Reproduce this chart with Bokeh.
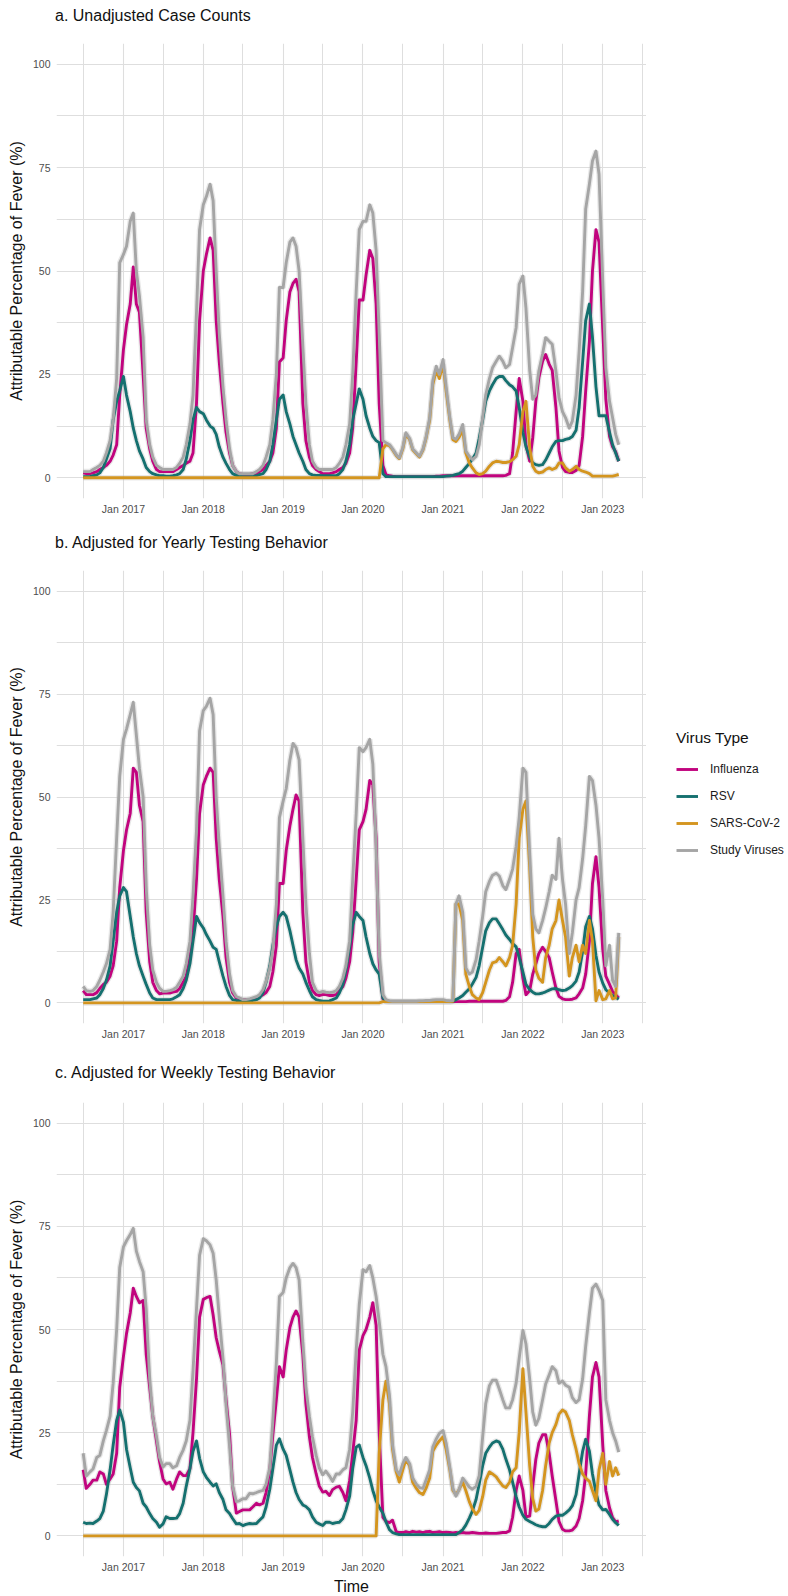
import pandas as pd
from bokeh.plotting import figure
from bokeh.layouts import column, row
from bokeh.models import Range1d, FixedTicker, DatetimeTickFormatter, Legend, LegendItem, Div
from bokeh.embed import file_html
from bokeh.resources import INLINE

# ---------------- data (semi-monthly, 1st and 15th, Jul 2016 - Mar 2023) ----------------
dates = pd.date_range("2016-07-01", "2023-03-15", freq="SMS")
series_names = ["Influenza", "RSV", "SARS-CoV-2", "Study Viruses"]
panel_titles = ["a. Unadjusted Case Counts",
                "b. Adjusted for Yearly Testing Behavior",
                "c. Adjusted for Weekly Testing Behavior"]
year_ticks = ["2017-01-01", "2018-01-01", "2019-01-01", "2020-01-01",
              "2021-01-01", "2022-01-01", "2023-01-01"]
half_year_ticks = ["2016-07-01", "2017-07-01", "2018-07-01", "2019-07-01",
                   "2020-07-01", "2021-07-01", "2022-07-01", "2023-07-01"]
y_ticks = [0, 25, 50, 75, 100]
y_minor = [12.5, 37.5, 62.5, 87.5]

# ---- panel a: unadjusted ----
flu_a = ([1.2, 1, 1, 1.2, 1.5, 2, 2.5, 3, 4, 5.5, 8, 20, 31, 37, 42, 51, 42, 40, 25, 12, 7, 4, 2, 1.5]
         + [1.5, 1.5, 1.5, 1.5, 2, 2.5, 3, 3.5, 4, 6, 18, 38, 50, 54, 58, 55, 38, 28, 18, 11, 6, 3, 1.5, 1]
         + [0.8, 0.8, 0.8, 1, 1, 1.5, 2, 3, 4, 6, 12, 28, 29, 38, 45, 47, 48, 45, 18, 9, 5, 3, 2, 1.5]
         + [1, 1, 1, 1.2, 1.5, 2, 2.5, 3.5, 6, 12, 28, 43, 43, 49, 55, 53, 42, 18, 3, 0.8, 0.5, 0.4, 0.3, 0.3]
         + [0.3, 0.3, 0.3, 0.3, 0.3, 0.3, 0.3, 0.3, 0.3, 0.3, 0.4, 0.4, 0.5, 0.5, 0.5, 0.5, 0.5, 0.5, 0.5, 0.5, 0.5, 0.5, 0.5, 0.5]
         + [0.5, 0.5, 0.5, 0.5, 0.5, 0.5, 0.5, 0.6, 1, 6, 16, 24, 18.5, 8, 4, 9.7, 18.5, 24.2, 28.2, 29.8, 27.5, 26, 17, 6.5]
         + [2.5, 1.5, 1.3, 1.3, 1.8, 3, 10, 21, 33, 50, 60, 57, 36, 19, 10, 7.5, 6.3, 4])
rsv_a = ([0.3, 0.3, 0.3, 0.5, 0.7, 1.2, 2.5, 4.5, 7, 14, 18.5, 21, 24.5, 20, 16, 12, 9, 6.5, 4.5, 2.5, 1.5, 1, 0.7, 0.5]
         + [0.5, 0.4, 0.4, 0.5, 0.7, 1, 2, 4.5, 9, 14, 17, 16, 15.5, 14, 12.5, 12, 10.5, 7.5, 5, 3.5, 2, 1, 0.6, 0.4]
         + [0.3, 0.3, 0.3, 0.4, 0.5, 0.8, 1, 2, 4, 8, 14, 19, 20, 16, 13, 10, 8, 6, 4, 2, 1, 0.7, 0.6, 0.6]
         + [0.5, 0.5, 0.5, 0.5, 0.5, 1, 2, 4, 8, 14, 18, 21.5, 19, 15, 12, 10, 9, 8.5, 1, 0.3, 0.3, 0.3, 0.3, 0.3]
         + [0.3, 0.3, 0.3, 0.3, 0.3, 0.3, 0.3, 0.3, 0.3, 0.3, 0.3, 0.3, 0.3, 0.4, 0.5, 0.6, 0.8, 1, 1.6, 2.5, 3.5, 4.5, 6, 9.5]
         + [14, 18.5, 21, 22.5, 24, 24.5, 24.5, 23.5, 22.5, 22, 21, 17, 11, 7.5, 5, 3.6, 3.2, 3, 3.2, 4.3, 6, 7.5, 8.8, 9]
         + [9, 9.3, 9.5, 10, 11.5, 17, 28, 38, 42, 34, 22, 15, 15, 15, 11, 8, 6, 4])
sars_a = ([0] * 24 + [0] * 24 + [0] * 24
          + [0, 0, 0, 0, 0, 0, 0, 0, 0, 0, 0, 0, 0, 0, 0, 0, 0, 0, 7, 8, 7.8, 6.8, 5.4, 4.6]
          + [7, 10.5, 9.3, 6.8, 5.8, 5, 6.7, 9.5, 14, 22.5, 26, 24, 27.5, 21, 14, 9.2, 8.8, 9.8, 11.5, 6, 3.6, 2.4, 1.2, 0.8]
          + [1, 1.6, 2.8, 3.6, 4, 3.9, 3.7, 3.7, 3.9, 4.4, 5.2, 8, 16, 18.5, 7.3, 2.8, 1.6, 1.2, 1.4, 2, 2.4, 2, 2.4, 3.6]
          + [3.6, 2.4, 1.6, 2, 2.8, 2, 1.6, 1.4, 1, 0.4, 0.4, 0.4, 0.4, 0.4, 0.4, 0.4, 0.6, 0.8])
all_a = ([1.5, 1.5, 1.5, 2, 2.5, 3, 4, 6, 9, 14, 24, 52, 54, 56, 62, 64, 50, 44, 34, 14, 8, 5, 3, 2.5]
         + [2, 2, 2, 2, 2.5, 3.5, 5, 8, 13, 20, 40, 60, 66, 68, 71, 67, 50, 35, 22, 14, 7, 3, 1.5, 1]
         + [1, 1, 1, 1, 1.5, 2, 3, 5, 8, 14, 25, 46, 46, 52, 57, 58, 56, 50, 32, 18, 8, 4, 2.5, 2]
         + [2, 2, 2, 2, 2.5, 3.5, 5, 8, 13, 25, 45, 60, 62, 62, 66, 64, 55, 35, 9, 8.5, 8, 7, 5.6, 4.8]
         + [7.3, 10.9, 9.5, 7, 6, 5.2, 6.9, 9.7, 14.5, 23.4, 27, 25, 28.6, 22, 14.5, 9.7, 9.3, 10.5, 12.9, 6.5, 5.2, 4.4, 5.2, 8]
         + [14.5, 20, 24, 26.6, 28.2, 29.4, 28.2, 26.6, 27.4, 31.5, 36.3, 46.8, 48.8, 41, 26, 19, 20, 25.8, 30, 33.9, 33, 32.3, 25.8, 19.4]
         + [16, 14.5, 12, 13.7, 20, 30.6, 45, 65, 71, 76.6, 79, 73.4, 47.6, 26.6, 18.5, 14.5, 10.5, 8])

# ---- panel b: adjusted for yearly testing behaviour ----
flu_b = ([3, 2, 2, 2, 2.5, 3.5, 4.5, 5, 6.5, 9, 15, 28, 37, 42, 46, 57, 56, 48, 44, 22, 10, 5, 3, 2.2]
         + [2.4, 2.4, 2.4, 2.6, 2.8, 3.5, 5, 6.5, 11, 17, 30, 46, 53, 55, 57, 56, 40, 30, 21, 11, 5, 2.5, 1.2, 1]
         + [0.8, 0.8, 0.8, 1, 1.2, 1.5, 2, 2.5, 4, 7.5, 14, 29, 29, 37, 43, 47, 50.5, 49, 22, 10, 5, 3, 2, 1.8]
         + [2, 2, 1.8, 1.8, 2, 3, 4, 6, 10, 17, 30, 42, 44, 47, 54, 53, 40, 10, 1, 0.3, 0.3, 0.3, 0.3, 0.3]
         + [0.3, 0.3, 0.3, 0.3, 0.3, 0.3, 0.3, 0.3, 0.3, 0.3, 0.3, 0.3, 0.3, 0.3, 0.3, 0.3, 0.3, 0.3, 0.3, 0.3, 0.4, 0.4, 0.4, 0.4]
         + [0.4, 0.4, 0.4, 0.4, 0.4, 0.4, 0.4, 0.6, 1.5, 5, 12, 13, 6, 2, 3, 7, 9.5, 12, 13.5, 12.5, 11, 7.5, 3.6, 1.6]
         + [1, 0.8, 0.8, 0.9, 1.2, 2.2, 3.6, 7, 15, 29, 35.5, 28, 13, 6.5, 4.5, 2.8, 2, 1.2])
rsv_b = ([0.8, 0.8, 0.8, 1, 1.2, 2, 3.5, 5.5, 9, 15, 22, 26, 28, 27, 21, 16, 12, 9, 6.5, 4.5, 2.4, 1.2, 0.8, 0.8]
         + [0.8, 0.8, 0.8, 1, 1.5, 2, 3.5, 5.5, 9.5, 15, 21, 19.5, 18.2, 16.6, 15, 13.5, 13, 10, 6.5, 4, 1.8, 0.8, 0.6, 0.5]
         + [0.4, 0.4, 0.5, 0.6, 0.8, 1.2, 2.5, 5, 9, 14, 18.5, 21, 22, 21, 17.5, 14, 10.5, 8.5, 7, 5, 3, 1.5, 0.8, 0.6]
         + [0.4, 0.4, 0.5, 0.8, 1.2, 2.4, 4.5, 8, 13.5, 19, 22, 21, 20, 16, 12, 9.5, 8, 7, 1.2, 0.4, 0.3, 0.3, 0.3, 0.3]
         + [0.3, 0.3, 0.3, 0.3, 0.3, 0.3, 0.3, 0.3, 0.3, 0.3, 0.3, 0.3, 0.3, 0.3, 0.3, 0.4, 0.8, 1.2, 1.8, 2.6, 3.4, 4.6, 6.2, 9]
         + [13.5, 17.5, 19.5, 20.4, 20.4, 19.2, 17.8, 16.5, 15.4, 14.4, 13.6, 11, 7.5, 4.5, 3.2, 2.6, 2.2, 2.2, 2.4, 2.7, 3.1, 3.4, 3.5, 3.2]
         + [3, 3.1, 3.6, 4.2, 5.3, 7.5, 12.5, 18.5, 21, 18, 11.5, 7.5, 4.8, 3.2, 2.4, 1.8, 1.4, 0.9])
sars_b = ([0] * 24 + [0] * 24 + [0] * 24
          + [0, 0, 0, 0, 0, 0, 0, 0, 0, 0, 0, 0, 0, 0, 0, 0, 0, 0, 0.3, 0.3, 0.3, 0.3, 0.3, 0.3]
          + [0.3, 0.3, 0.3, 0.3, 0.3, 0.3, 0.3, 0.3, 0.3, 0.3, 0.3, 0.3, 0.3, 0.3, 0.3, 0.4, 24, 24, 20, 7, 4, 2, 1.2, 0.8]
          + [2.5, 5, 8, 9.7, 10, 11, 10, 9, 11, 14, 24, 40, 47, 49, 33, 16, 8, 6, 5, 11, 14, 18, 20, 25]
          + [20, 16, 6.5, 11, 14, 10, 14, 12, 20, 15, 0.5, 3, 0.8, 1, 3, 1, 1.2, 16])
all_b = ([4, 3, 2.8, 3, 4, 5.5, 7.5, 9.5, 13, 22, 40, 55, 64, 66.5, 70, 73, 65, 57, 50, 28, 14, 8, 5, 3.6]
         + [2.8, 2.8, 3, 3.2, 3.8, 5, 6.5, 9.5, 15, 26, 42, 66, 71, 72, 74, 70, 50, 38, 26, 15, 7, 3, 1.5, 1.2]
         + [0.8, 0.8, 1, 1.2, 1.5, 2, 3.2, 5.2, 8.5, 13, 24, 45, 49, 52, 59, 63, 62, 59, 40, 24, 12, 5, 3, 2.5]
         + [2.8, 2.6, 2.5, 2.6, 3, 4, 6, 9, 15, 30, 46, 62, 61, 62, 64, 58, 38, 12, 2, 0.8, 0.5, 0.4, 0.4, 0.4]
         + [0.4, 0.4, 0.4, 0.4, 0.4, 0.5, 0.5, 0.6, 0.6, 0.7, 0.8, 0.8, 0.8, 0.6, 0.5, 0.6, 24, 26, 22, 8.5, 7, 7.5, 10.5, 15]
         + [21, 27, 29.5, 31, 31.5, 30.8, 28.5, 27.5, 30, 32.5, 38, 45, 57, 56, 36, 21.5, 18, 17, 20, 23, 27, 31, 30, 40]
         + [30, 24, 12, 17, 25, 28, 35, 43, 55, 54, 48, 40, 25, 9, 14, 5.5, 4, 17])

# ---- panel c: adjusted for weekly testing behaviour ----
flu_c = ([16, 11.5, 12.5, 13.5, 13.5, 15.5, 15, 12.5, 13.8, 15, 20, 36, 43.5, 49, 54, 60, 58, 56.5, 57, 44, 36, 29, 23, 18]
         + [13.8, 12.6, 13, 11.3, 13.8, 15.5, 14.6, 14.6, 16.3, 25, 38, 53, 57.3, 57.7, 58, 53.5, 48, 44.8, 41.4, 33, 24.7, 12, 5.5, 5.9]
         + [6.3, 6.3, 6.3, 7, 7.9, 7.5, 7.9, 10.5, 16, 24.5, 33, 41, 38.5, 45, 50.5, 53, 54.5, 53, 44, 32, 24, 19, 15, 12.1]
         + [10.6, 10.8, 9.8, 11.2, 11.8, 12, 10.5, 8.5, 13.5, 20, 28, 45, 48.5, 50, 53, 56.5, 51, 25, 4.5, 3.5, 3.2, 3.8, 1, 0.8]
         + [0.8, 1, 0.8, 1.1, 0.9, 1, 0.8, 1, 1.1, 0.8, 0.9, 1, 0.8, 0.9, 0.8, 0.7, 0.8, 0.7, 0.8, 0.7, 0.7, 0.8, 0.7, 0.6]
         + [0.6, 0.7, 0.6, 0.6, 0.6, 0.7, 0.8, 0.8, 1.2, 4.5, 11, 14.5, 11, 4.6, 4.8, 12, 18.5, 22.5, 24.5, 24.5, 20, 14.5, 8.5, 3.5]
         + [1.6, 1.2, 1.2, 1.4, 2.4, 4.2, 8.5, 15, 29, 38.5, 42, 38.5, 22, 11, 6.8, 4.4, 3.4, 3.6])
rsv_c = ([3.3, 3, 3.1, 3, 3.6, 4.2, 6, 10, 16, 22, 28, 30.5, 27.5, 21, 16.5, 13, 11.7, 10.9, 7.9, 7, 5.4, 4.2, 3.3, 2.1]
         + [2.9, 4.6, 4.2, 4.2, 4.3, 5.4, 7.9, 12, 16.3, 20.5, 23, 18.8, 15.5, 14.2, 13, 12.1, 12.6, 10.5, 8.8, 6.3, 5.4, 4.2, 2.9, 3]
         + [2.5, 2.8, 3, 2.9, 3, 3.8, 4.6, 7, 11.3, 16.3, 22, 23.5, 21, 19.5, 16, 13, 10.5, 8.8, 7.5, 7.1, 6.3, 4.6, 3.3, 2.9]
         + [2.5, 3.3, 3.3, 3, 3.2, 3.3, 4.2, 6.3, 9.6, 16.3, 21.5, 22, 19, 17, 14, 11, 8.5, 7, 5.5, 3.4, 1.5, 0.8, 0.5, 0.3]
         + [0.3, 0.3, 0.3, 0.3, 0.3, 0.3, 0.3, 0.3, 0.3, 0.3, 0.3, 0.3, 0.3, 0.3, 0.3, 0.3, 0.3, 0.8, 1.5, 2.6, 4.3, 6, 8.8, 12.5]
         + [17, 20, 21.5, 22.5, 23, 22.7, 21, 18.6, 16, 13, 9.5, 7, 5, 4, 3.5, 3.1, 2.7, 2.4, 2.2, 2.2, 3, 4, 4.8, 5]
         + [5, 5.5, 6.3, 7.3, 10, 15, 20.5, 23.4, 20.5, 15, 10.5, 7.5, 6.3, 6.4, 5.2, 4, 3.2, 2.5])
sars_c = ([0] * 24 + [0] * 24 + [0] * 24
          + [0, 0, 0, 0, 0, 0, 0, 0, 0, 0, 0, 0, 0, 0, 0, 0, 0, 20, 33, 37.5, 32, 21, 15.5, 13]
          + [16, 18.5, 17, 13, 11.5, 10.5, 10, 11.5, 14, 20.5, 22, 23, 24, 21, 16, 11, 10, 11.2, 13, 11, 8.3, 6.5, 5.2, 6.2]
          + [9.5, 13.5, 15.5, 15, 14.3, 13.2, 12.1, 11.7, 13, 15.5, 16.5, 25, 40.5, 30, 17, 9, 6, 6.5, 11, 17, 22.5, 25, 27, 29.5]
          + [30.5, 30, 28, 24.5, 21, 17.5, 15, 14, 13.2, 11, 8.5, 16, 20, 12.5, 18, 14.5, 16.5, 14.6])
all_c = ([20, 14.5, 15.5, 16.2, 19, 19.5, 23, 25.5, 29, 37, 50, 65, 70, 71.5, 73, 74.5, 69, 66.5, 64, 55, 38, 29, 24, 19]
         + [16.7, 17.5, 17.5, 16.5, 17, 19, 20.8, 23, 28, 40, 55, 68, 72, 71.5, 70.5, 68.5, 62, 53, 43, 32, 22, 12, 8.3, 8.5]
         + [9, 9, 10.3, 10.2, 10.5, 10.8, 11, 12.5, 16.5, 28, 42, 58, 59, 62.5, 65, 66, 65, 62, 47, 36, 29, 24, 19.5, 16.5]
         + [14.8, 15.7, 14.5, 13.2, 15, 15, 16, 16.5, 21, 30, 45, 56, 64.5, 64, 65.5, 62.5, 58, 52, 44, 41, 34, 22, 16, 14.8]
         + [17.5, 19, 17.5, 14, 12.5, 11.7, 11.5, 13.5, 16, 21.5, 23.5, 24.8, 25.5, 22.5, 16.5, 11.5, 9.6, 11.2, 14, 13, 11.8, 11.3, 12, 14.5]
         + [24, 32, 36.4, 37.7, 37.7, 35.6, 33, 31, 31, 33, 37, 43, 49.8, 46.5, 38, 30, 26.8, 28.5, 33, 36.8, 39, 41, 40, 37]
         + [37.5, 36.5, 36, 33.5, 32.3, 33, 38, 46, 54, 60, 61, 59.5, 57, 33, 28, 25, 23, 20.3])

panels = [[flu_a, rsv_a, sars_a, all_a],
          [flu_b, rsv_b, sars_b, all_b],
          [flu_c, rsv_c, sars_c, all_c]]

# ---------------- styling ----------------
COLORS = ["#C1047E", "#15706F", "#D4951F", "#A5A5A5"]
FONT = "Liberation Sans"
GRID = "#DEDEDE"
MAIN_W = 646   # 56 left border + 590 frame


def ms(s):
    return pd.Timestamp(s).value / 1e6


xs = [d.value / 1e6 for d in dates]
X_START, X_END = ms("2016-03-01"), ms("2023-07-20")
fmt = "%b %Y"

# (title block height, title padding-top, frame height, bottom border)
layout_spec = [(43, 8, 455, 27), (45, 10, 453, 33), (46, 9, 454, 40)]

blocks = []
for k in range(3):
    th, pt, fh, bb = layout_spec[k]
    title = Div(text=(f'<div style="font-family:\'{FONT}\';font-size:16px;line-height:16px;'
                      f'color:#111111;padding-left:55px;padding-top:{pt}px;white-space:nowrap">'
                      f'{panel_titles[k]}</div>'),
                width=MAIN_W, height=th, margin=(0, 0, 0, 0))
    p = figure(x_axis_type="datetime", frame_width=590, frame_height=fh,
               x_range=Range1d(X_START, X_END), y_range=Range1d(-5, 105),
               output_backend="svg", toolbar_location=None,
               min_border_left=56, min_border_right=0,
               min_border_top=0, min_border_bottom=bb)
    p.outline_line_color = None
    p.background_fill_color = "white"
    p.border_fill_color = "white"

    xt = FixedTicker(ticks=[ms(t) for t in year_ticks], minor_ticks=[ms(t) for t in half_year_ticks])
    yt = FixedTicker(ticks=y_ticks, minor_ticks=y_minor)
    p.xaxis.ticker = xt
    p.yaxis.ticker = yt
    p.xgrid.ticker = xt
    p.ygrid.ticker = yt
    p.xaxis.formatter = DatetimeTickFormatter(years=fmt, months=fmt, days=fmt, hours=fmt,
                                              minutes=fmt, seconds=fmt, milliseconds=fmt,
                                              microseconds=fmt, hourmin=fmt, minsec=fmt)
    for ax in (p.xaxis, p.yaxis):
        ax.axis_line_color = None
        ax.major_tick_line_color = None
        ax.minor_tick_line_color = None
        ax.major_tick_out = 0
        ax.major_tick_in = 0
        ax.minor_tick_out = 0
        ax.minor_tick_in = 0
        ax.major_label_text_font = FONT
        ax.major_label_text_font_size = "10.5px"
        ax.major_label_text_color = "#4D4D4D"
        ax.axis_label_text_font = FONT
        ax.axis_label_text_font_size = "16px"
        ax.axis_label_text_font_style = "normal"
        ax.axis_label_text_color = "#111111"
    p.xaxis.major_label_standoff = 4
    p.yaxis.major_label_standoff = 6
    p.yaxis.axis_label = "Attributable Percentage of Fever (%)"
    p.yaxis.axis_label_standoff = 5
    if k == 2:
        p.xaxis.axis_label = "Time"
        p.xaxis.axis_label_standoff = 2

    for g in (p.xgrid, p.ygrid):
        g.grid_line_color = GRID
        g.grid_line_width = 1.1
        g.minor_grid_line_color = GRID
        g.minor_grid_line_width = 1.0

    vals = panels[k]
    for v in vals:   # faint confidence halo beneath each line
        p.line(xs, v, line_color="#BDBDBD", line_width=5.5, line_alpha=0.35)
    for v, c in zip(vals, COLORS):
        p.line(xs, v, line_color=c, line_width=2.9, line_join="round")
    blocks += [title, p]

main = column(*blocks, spacing=0)

# legend panel on the right (its key renderers lie outside its visible range)
lg = figure(width=788 - MAIN_W, height=1596, x_range=Range1d(0, 1), y_range=Range1d(0, 1),
            x_axis_location=None, y_axis_location=None, toolbar_location=None,
            output_backend="svg", min_border=0)
lg.outline_line_color = None
lg.grid.visible = False
lrs = [lg.line([-3, -2], [-3, -2], line_color=c, line_width=2.9) for c in COLORS]
legend = Legend(items=[LegendItem(label=n, renderers=[r]) for n, r in zip(series_names, lrs)],
                title="Virus Type", location=(30, 736))
legend.title_text_font = FONT
legend.title_text_font_size = "15.5px"
legend.title_text_font_style = "normal"
legend.title_text_color = "#111111"
legend.title_standoff = 12
legend.label_text_font = FONT
legend.label_text_font_size = "12px"
legend.label_text_color = "#1A1A1A"
legend.glyph_width = 22
legend.glyph_height = 20
legend.label_height = 20
legend.label_standoff = 12
legend.spacing = 7
legend.padding = 10
legend.margin = 0
legend.border_line_color = None
legend.background_fill_alpha = 0
lg.add_layout(legend, "center")

layout = row(main, lg, spacing=0)
open("out.html", "w").write(file_html(layout, INLINE))
